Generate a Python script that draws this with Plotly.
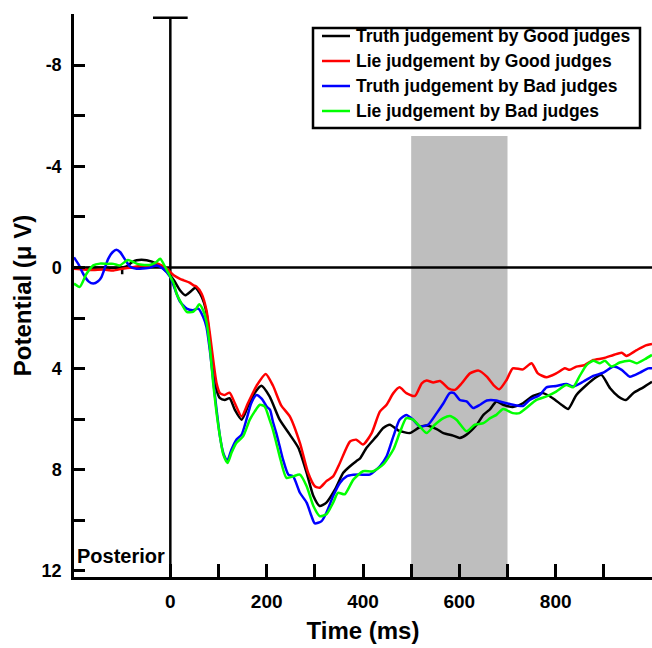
import plotly.graph_objects as go

# Grand-average ERP waveforms at the posterior site (time in ms, potential in µV)
t_truth_good = [-200, -180, -160, -140, -125, -100, -91, -80, -70, -49, -28, -7, 7, 20, 31, 41, 52, 62, 70, 76,
                82, 89, 96, 103, 113, 123, 134, 148, 161, 175, 189, 206, 227, 248, 266, 283, 297, 310, 324, 342,
                359, 373, 386, 394, 407, 428, 442, 456, 473, 497, 518, 532, 553, 567, 587, 601, 615, 636, 650,
                664, 677, 691, 711, 732, 753, 774, 794, 812, 826, 843, 864, 881, 895, 913, 930, 946, 961, 982, 1000]
v_truth_good = [0.0, 0.02, 0.0, 0.0, 0.01, 0.0, -0.04, -0.2, -0.28, -0.28, -0.14, 0.18, 0.5, 0.9, 1.1, 0.97, 0.8,
                1.05, 1.4, 1.9, 2.87, 3.92, 4.84, 5.17, 5.24, 5.17, 5.63, 6.02, 5.5, 4.97, 4.68, 5.1, 6.02, 6.61,
                7.14, 8.12, 9.04, 9.43, 9.3, 8.78, 8.12, 7.86, 7.66, 7.55, 7.14, 6.68, 6.35, 6.22, 6.44, 6.55, 6.31,
                6.25, 6.39, 6.55, 6.65, 6.74, 6.61, 6.22, 5.83, 5.6, 5.3, 5.43, 5.52, 5.37, 5.08, 4.97, 5.17, 5.43,
                5.6, 5.04, 4.65, 4.38, 4.25, 4.78, 5.1, 5.24, 4.97, 4.74, 4.52]

t_lie_good = [-200, -180, -160, -140, -118, -100, -80, -56, -40, -29, -15, -7, 7, 20, 28, 40, 48, 54, 65, 75, 82,
              89, 96, 103, 113, 123, 134, 148, 161, 179, 198, 213, 230, 248, 269, 286, 300, 310, 324, 338, 352, 373,
              386, 400, 418, 435, 449, 463, 476, 490, 508, 522, 532, 546, 560, 577, 591, 605, 622, 640, 657, 671,
              683, 698, 711, 732, 750, 763, 781, 801, 819, 829, 843, 860, 878, 899, 920, 937, 947, 968, 985, 1000]
v_lie_good = [0.05, 0.08, 0.1, 0.08, 0.12, 0.05, 0.0, -0.08, -0.05, -0.17, -0.05, 0.05, 0.31, 0.45, 0.51, 0.6,
              0.71, 0.75, 1.04, 1.69, 2.61, 3.66, 4.58, 4.97, 5.04, 4.95, 5.37, 5.89, 5.37, 4.68, 4.21, 4.67, 5.45,
              5.89, 6.94, 8.12, 8.65, 8.71, 8.45, 8.26, 7.73, 6.88, 6.81, 7.0, 6.55, 5.7, 5.43, 4.97, 4.74, 4.97,
              5.08, 4.58, 4.47, 4.55, 4.49, 4.78, 4.84, 4.58, 4.19, 4.08, 4.32, 4.65, 4.82, 4.45, 3.99, 4.03, 3.79,
              4.19, 4.34, 4.19, 3.99, 4.05, 3.92, 3.86, 3.66, 3.59, 3.46, 3.37, 3.5, 3.27, 3.1, 3.03]

t_truth_bad = [-200, -190, -181, -170, -160, -150, -143, -129, -120, -112, -104, -95, -84, -70, -63, -43, -29, -15,
               0, 9, 20, 34, 47, 58, 68, 75, 82, 89, 96, 103, 110, 118, 127, 137, 148, 158, 168, 179, 190, 200,
               207, 213, 220, 227, 234, 245, 255, 269, 283, 293, 300, 314, 324, 338, 352, 366, 380, 393, 414, 435,
               449, 463, 476, 490, 504, 518, 535, 553, 567, 580, 589, 601, 615, 629, 643, 657, 677, 684, 705, 732,
               746, 767, 781, 801, 822, 836, 857, 878, 899, 920, 937, 954, 975, 992, 1000]
v_truth_bad = [-0.4, -0.1, 0.25, 0.55, 0.64, 0.55, 0.38, -0.34, -0.6, -0.7, -0.6, -0.34, -0.04, 0.05, 0.05, 0.01,
               -0.08, 0.05, 0.38, 0.84, 1.35, 1.63, 1.69, 1.63, 1.95, 2.35, 3.27, 4.45, 5.63, 6.68, 7.34, 7.66, 7.2,
               6.81, 6.61, 6.02, 5.37, 5.04, 5.2, 5.5, 5.63, 6.1, 6.55, 7.07, 7.6, 8.19, 8.26, 8.91, 9.3, 9.83,
               10.12, 10.03, 9.7, 9.04, 8.52, 8.26, 8.2, 8.19, 8.19, 7.86, 7.47, 6.68, 6.02, 5.83, 6.02, 6.29, 6.22,
               5.76, 5.37, 4.97, 4.97, 5.24, 5.3, 5.56, 5.43, 5.26, 5.26, 5.3, 5.4, 5.48, 5.24, 5.04, 4.74, 4.69,
               4.61, 4.71, 4.52, 4.29, 4.16, 3.92, 4.05, 4.32, 4.16, 3.99, 3.99]

t_lie_bad = [-200, -188, -174, -160, -146, -130, -118, -105, -88, -70, -63, -43, -30, -21, -9, 7, 13, 21, 34, 47,
             54, 60, 68, 75, 82, 89, 96, 103, 110, 119, 127, 137, 151, 165, 175, 186, 196, 206, 213, 220, 227, 241,
             255, 269, 283, 297, 310, 324, 338, 348, 362, 380, 400, 421, 442, 463, 476, 490, 504, 518, 532, 549,
             567, 580, 594, 615, 632, 650, 664, 677, 691, 711, 725, 739, 760, 781, 801, 822, 836, 850, 864, 878,
             892, 902, 916, 933, 954, 968, 985, 1000]
v_lie_bad = [0.64, 0.77, 0.25, -0.08, -0.15, -0.14, -0.14, -0.08, -0.29, -0.15, -0.12, -0.1, -0.2, -0.34, 0.05,
             0.64, 1.04, 1.35, 1.76, 1.76, 1.62, 1.46, 1.69, 2.15, 3.14, 4.58, 5.76, 6.68, 7.4, 7.73, 7.33, 6.94,
             6.68, 6.02, 5.7, 5.43, 5.5, 6.02, 6.42, 6.94, 7.47, 8.32, 8.26, 8.19, 8.65, 9.43, 9.83, 9.76, 9.3,
             8.91, 8.97, 8.39, 8.06, 8.06, 7.79, 7.2, 6.55, 5.96, 6.02, 6.29, 6.55, 6.22, 5.96, 5.87, 6.02, 6.48,
             6.22, 6.16, 5.96, 5.83, 5.6, 5.76, 5.76, 5.56, 5.24, 5.1, 4.91, 4.65, 4.74, 4.29, 3.86, 3.69, 3.79,
             3.69, 3.92, 3.76, 3.69, 3.79, 3.63, 3.46]

series_names = ["Truth judgement by Good judges", "Lie judgement by Good judges",
                "Truth judgement by Bad judges", "Lie judgement by Bad judges"]
series_colors = ["#000000", "#FF0000", "#0000FF", "#00FF00"]

# Analysis window and axis tick labels
window_ms = [500, 700]
window_top_uv = -5.2
x_tickvals = [0, 100, 200, 300, 400, 500, 600, 700, 800, 900]
x_ticktext = ["0", "", "200", "", "400", "", "600", "", "800", ""]
y_tickvals = [-10, -8, -6, -4, -2, 0, 2, 4, 6, 8, 10, 12]
y_ticktext = ["", "-8", "", "-4", "", "0", "", "4", "", "8", "", "12"]

X_RANGE = [-200, 1000]
Y_RANGE = [12.24, -10.02]  # negative up

W, H = 652, 648
M_L, M_R, M_T, M_B = 74, 0, 14, 71
FONT = "Liberation Sans, Arial, sans-serif"
LW = 2.5


def px_to_paper(px, py):
    """Convert a pixel position on the page to paper coordinates."""
    pw = W - M_L - M_R
    ph = H - M_T - M_B
    return (px - M_L) / pw, (H - M_B - py) / ph


fig = go.Figure()
for t, v, name, color in zip(
        [t_truth_good, t_lie_good, t_truth_bad, t_lie_bad],
        [v_truth_good, v_lie_good, v_truth_bad, v_lie_bad],
        series_names, series_colors):
    fig.add_trace(go.Scatter(x=t, y=v, mode="lines", name=name, showlegend=False,
                             line=dict(color=color, width=LW, shape="spline", smoothing=0.6)))

shapes = [
    # shaded analysis window
    dict(type="rect", xref="x", yref="y", x0=window_ms[0], x1=window_ms[1],
         y0=window_top_uv, y1=Y_RANGE[0], fillcolor="#BEBEBE", line=dict(width=0), layer="below"),
    # zero potential line
    dict(type="line", xref="x", yref="y", x0=X_RANGE[0], x1=X_RANGE[1], y0=0, y1=0,
         line=dict(color="black", width=LW), layer="below"),
    # stimulus onset line with its cap
    dict(type="line", xref="x", yref="y", x0=0, x1=0, y0=-9.87, y1=Y_RANGE[0],
         line=dict(color="black", width=LW), layer="below"),
    dict(type="line", xref="x", yref="y", x0=-36, x1=36, y0=-9.87, y1=-9.87,
         line=dict(color="black", width=LW), layer="below"),
    # small tick on the zero line
    dict(type="line", xref="x", yref="y", x0=-100, x1=-100, y0=0, y1=0.27,
         line=dict(color="black", width=LW), layer="below"),
]

annotations = [
    dict(text="Posterior", xref="x", yref="y", x=-197, y=11.4, xanchor="left", yanchor="middle",
         showarrow=False, font=dict(family=FONT, size=20, color="black", weight="bold")),
]

# Legend box with one line sample and label per series
bx0, by0 = px_to_paper(313, 28)
bx1, by1 = px_to_paper(640, 128)
shapes.append(dict(type="rect", xref="paper", yref="paper", x0=bx0, x1=bx1, y0=by1, y1=by0,
                   fillcolor="white", line=dict(color="black", width=LW), layer="above"))
row_y = [36, 61, 86, 111]
for name, color, ry in zip(series_names, series_colors, row_y):
    lx0, ly = px_to_paper(322, ry)
    lx1, _ = px_to_paper(350, ry)
    shapes.append(dict(type="line", xref="paper", yref="paper", x0=lx0, x1=lx1, y0=ly, y1=ly,
                       line=dict(color=color, width=LW), layer="above"))
    tx, _ = px_to_paper(354, ry)
    annotations.append(dict(text=name, xref="paper", yref="paper", x=tx, y=ly,
                            xanchor="left", yanchor="middle", showarrow=False,
                            font=dict(family=FONT, size=17.5, color="black", weight="bold")))

fig.update_layout(
    width=W, height=H,
    margin=dict(l=M_L, r=M_R, t=M_T, b=M_B),
    plot_bgcolor="white", paper_bgcolor="white",
    font=dict(family=FONT, color="black", weight="bold"),
    shapes=shapes,
    annotations=annotations,
    showlegend=False,
)

fig.update_xaxes(
    range=X_RANGE, showgrid=False, zeroline=False,
    showline=True, linecolor="black", linewidth=LW,
    ticks="inside", ticklen=13, tickwidth=LW, tickcolor="black",
    tickmode="array", tickvals=x_tickvals, ticktext=x_ticktext,
    tickfont=dict(family=FONT, size=19, color="black", weight="bold"),
    ticklabelstandoff=5,
    title=dict(text="Time (ms)", font=dict(family=FONT, size=24, color="black", weight="bold"), standoff=12),
)

fig.update_yaxes(
    range=Y_RANGE, showgrid=False, zeroline=False,
    showline=True, linecolor="black", linewidth=LW,
    ticks="inside", ticklen=11, tickwidth=LW, tickcolor="black",
    tickmode="array", tickvals=y_tickvals, ticktext=y_ticktext,
    tickfont=dict(family=FONT, size=18, color="black", weight="bold"),
    ticklabelstandoff=6,
    title=dict(text="Potential (μ V)", font=dict(family=FONT, size=24, color="black", weight="bold"), standoff=4),
)

fig.write_html("out.html")
